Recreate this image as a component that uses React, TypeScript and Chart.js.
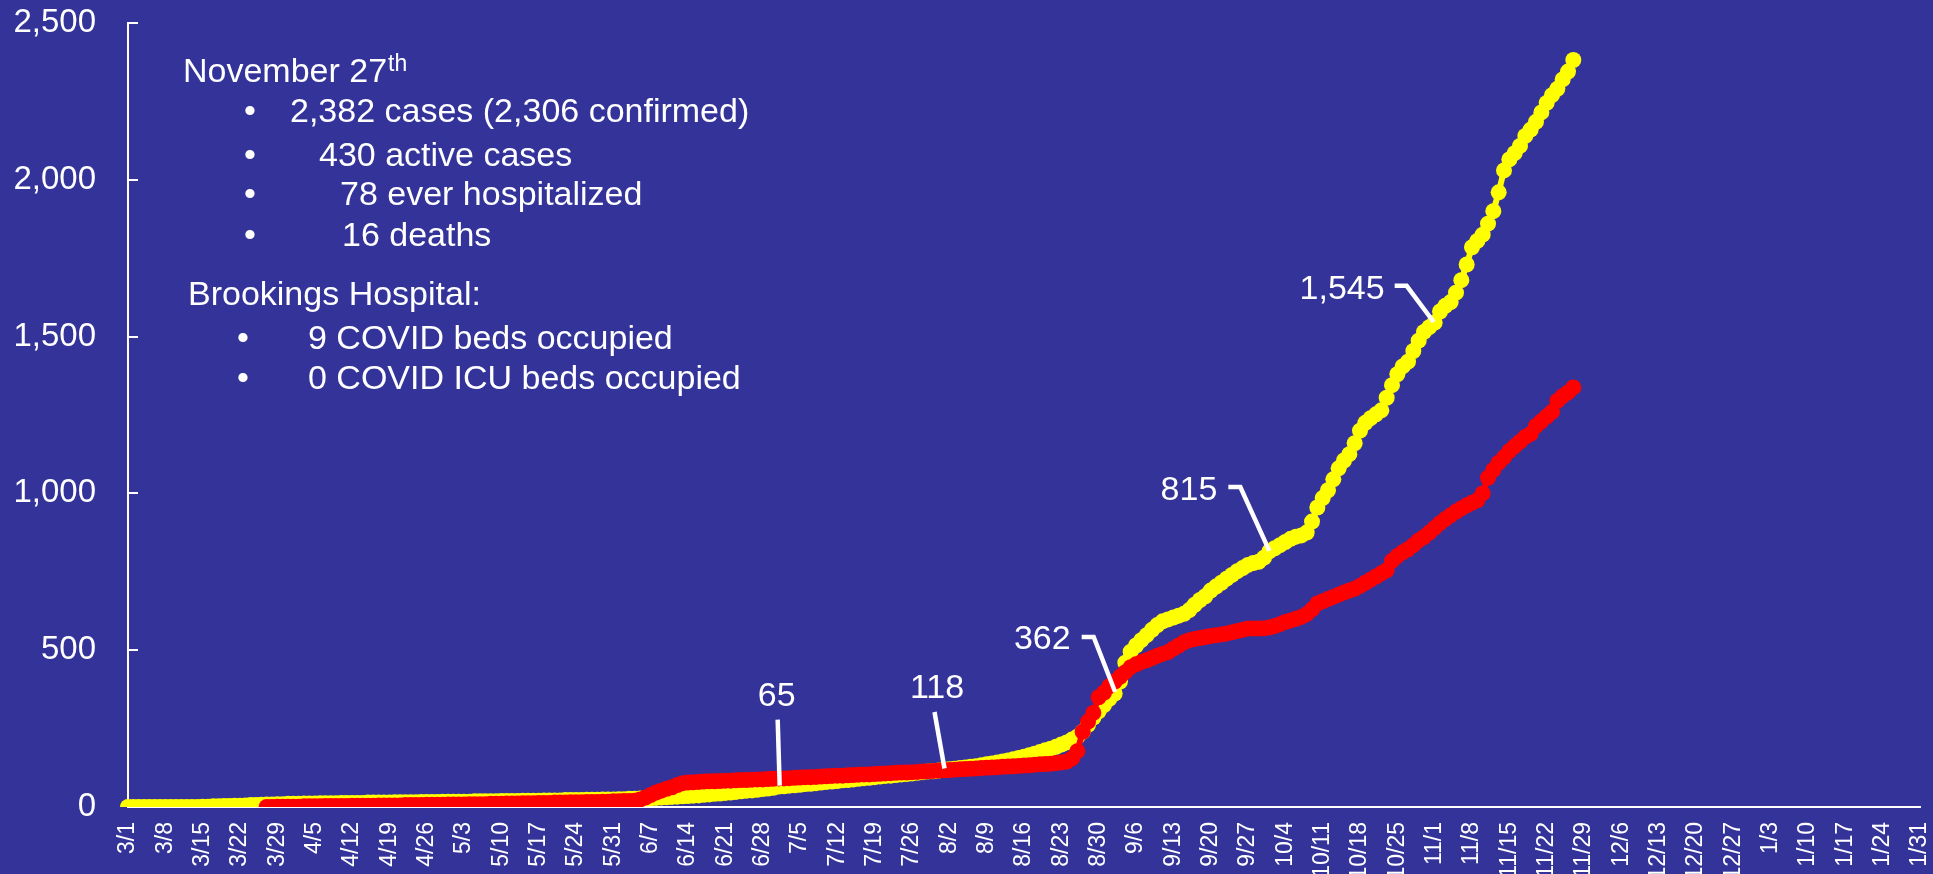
import React, { useEffect, useRef } from 'react';
import { Chart, registerables } from 'chart.js';

Chart.register(...registerables);

// ---------- DATA ----------
const FIRST_DAY_UTC = Date.UTC(2020, 2, 1); // 3/1/2020
const DAY_COUNT = 337; // 3/1/2020 .. 1/31/2021

const weekTickLabels = [
  '3/1', '3/8', '3/15', '3/22', '3/29', '4/5', '4/12', '4/19', '4/26', '5/3', '5/10', '5/17', '5/24', '5/31',
  '6/7', '6/14', '6/21', '6/28', '7/5', '7/12', '7/19', '7/26', '8/2', '8/9', '8/16', '8/23', '8/30',
  '9/6', '9/13', '9/20', '9/27', '10/4', '10/11', '10/18', '10/25', '11/1', '11/8', '11/15', '11/22', '11/29',
  '12/6', '12/13', '12/20', '12/27', '1/3', '1/10', '1/17', '1/24', '1/31',
];

const yTickValues = [0, 500, 1000, 1500, 2000, 2500];

// yellow series: cumulative cases, one value per day starting 3/1
const casesMar = [0, 0, 0, 0, 0, 0, 0, 0, 0, 0, 0, 0, 0, 0, 1, 1, 2, 2, 3, 3, 4, 4, 5, 6, 6, 7, 8, 8, 9, 9, 10];
const casesApr = [10, 10, 11, 11, 11, 12, 12, 12, 12, 13, 13, 13, 13, 13, 14, 14, 14, 14, 14, 15, 15, 15, 15, 15, 16, 16, 16, 16, 17, 17];
const casesMay = [17, 17, 17, 17, 18, 18, 18, 18, 18, 19, 19, 19, 19, 20, 20, 20, 20, 21, 21, 21, 21, 22, 22, 22, 22, 23, 23, 23, 24, 24, 24];
const casesJun = [25, 25, 26, 26, 27, 27, 28, 29, 30, 31, 32, 33, 34, 35, 36, 37, 39, 40, 42, 43, 45, 46, 48, 50, 52, 53, 55, 57, 59, 61];
const casesJul = [65, 66, 68, 69, 71, 73, 74, 76, 78, 80, 81, 83, 85, 86, 88, 90, 92, 93, 95, 97, 99, 100, 102, 104, 105, 107, 109, 111, 113, 114, 116];
const casesAug = [118, 120, 122, 124, 126, 128, 130, 133, 136, 139, 142, 145, 148, 152, 156, 160, 165, 170, 175, 181, 186, 192, 199, 206, 215, 224, 240, 262, 285, 305, 325];
const casesSep = [345, 362, 400, 460, 495, 515, 532, 548, 565, 580, 592, 598, 604, 610, 616, 628, 645, 660, 672, 690, 703, 715, 728, 740, 752, 762, 772, 778, 782, 795];
const casesOct = [815, 825, 835, 845, 855, 862, 866, 875, 910, 955, 985, 1010, 1045, 1080, 1105, 1125, 1160, 1200, 1225, 1240, 1252, 1265, 1305, 1345, 1380, 1405, 1420, 1454, 1487, 1515, 1530];
const casesNov = [1545, 1580, 1598, 1610, 1640, 1680, 1730, 1785, 1805, 1825, 1860, 1900, 1960, 2030, 2065, 2085, 2108, 2140, 2160, 2185, 2215, 2245, 2270, 2290, 2320, 2345, 2382];

// red series: starts 3/27, one value per day
const RED_START_DAY = 26;
const redMar = [0, 0, 1, 1, 1];
const redApr = [1, 1, 2, 2, 2, 2, 3, 3, 3, 3, 3, 4, 4, 4, 4, 4, 5, 5, 5, 5, 5, 6, 6, 6, 6, 7, 7, 7, 7, 8];
const redMay = [8, 8, 8, 9, 9, 9, 9, 10, 10, 10, 11, 11, 11, 12, 12, 12, 13, 13, 13, 14, 14, 14, 15, 15, 15, 16, 16, 16, 17, 17, 18];
const redJun = [18, 19, 19, 20, 24, 30, 38, 46, 52, 58, 63, 70, 76, 78, 79, 80, 81, 82, 82, 83, 84, 84, 85, 86, 86, 87, 88, 88, 89, 90];
const redJul = [91, 91, 92, 93, 94, 95, 95, 96, 97, 98, 99, 100, 100, 101, 102, 103, 104, 104, 105, 106, 107, 108, 109, 110, 110, 111, 112, 113, 114, 115, 116];
const redAug = [117, 118, 119, 120, 121, 122, 123, 124, 125, 126, 127, 128, 129, 130, 131, 132, 133, 135, 136, 137, 138, 140, 142, 145, 155, 178, 240, 272, 300, 350, 365];
const redSep = [385, 400, 415, 430, 446, 455, 462, 468, 475, 482, 488, 494, 505, 515, 525, 532, 536, 539, 542, 545, 548, 550, 553, 557, 561, 565, 569, 569, 569, 570];
const redOct = [572, 577, 583, 590, 595, 600, 606, 615, 630, 649, 656, 663, 670, 677, 684, 690, 696, 705, 715, 725, 735, 745, 755, 785, 800, 812, 822, 835, 850, 861, 875];
const redNov = [890, 905, 918, 930, 942, 952, 962, 970, 978, 1000, 1050, 1075, 1098, 1115, 1135, 1150, 1165, 1180, 1190, 1215, 1230, 1245, 1260, 1295, 1310, 1322, 1338];

// days (index from 3/1) whose yellow value carries a callout label
const calloutDays = [122, 153, 185, 214, 245];

const infoTitle = 'November 27';
const infoTitleSup = 'th';
const infoLines = [
  '2,382 cases (2,306 confirmed)',
  '430 active cases',
  '78 ever hospitalized',
  '16 deaths',
];
const hospitalTitle = 'Brookings Hospital:';
const hospitalLines = ['9 COVID beds occupied', '0 COVID ICU beds occupied'];

// ---------- STYLE ----------
const BG = '#333399';
const FONT = '"Liberation Sans", Arial, Helvetica, sans-serif';

const dayLabels: string[] = [];
for (let i = 0; i < DAY_COUNT; i++) {
  const d = new Date(FIRST_DAY_UTC + i * 86400000);
  dayLabels.push(`${d.getUTCMonth() + 1}/${d.getUTCDate()}`);
}
const weekSet = new Set(weekTickLabels);

const casesSeries = [
  ...casesMar, ...casesApr, ...casesMay, ...casesJun, ...casesJul,
  ...casesAug, ...casesSep, ...casesOct, ...casesNov,
];
const redValues = [...redMar, ...redApr, ...redMay, ...redJun, ...redJul, ...redAug, ...redSep, ...redOct, ...redNov];
const redSeries: (number | null)[] = [
  ...new Array(RED_START_DAY).fill(null),
  ...redValues,
];

// callout layout relative to the data point (pixels)
const calloutStyle: Record<number, { align: CanvasTextAlign; dx: number; dy: number; line: number[][] }> = {
  122: { align: 'center', dx: -2, dy: -81, line: [[-1, -67], [1, -1]] },
  153: { align: 'center', dx: -7, dy: -72, line: [[-9.5, -58], [0.5, -1.5]] },
  185: { align: 'right', dx: -44, dy: -44, line: [[-33, -56.5], [-21, -56.5], [0.5, -1.5]] },
  214: { align: 'right', dx: -52, dy: -51, line: [[-41, -64.4], [-29, -64.4], [0, -0.5]] },
  245: { align: 'right', dx: -50, dy: -23, line: [[-40, -36.7], [-28, -36.7], [-1, -0.5]] },
};

const bgPlugin = {
  id: 'bg',
  beforeDraw(chart: any) {
    const ctx = chart.ctx;
    ctx.save();
    ctx.fillStyle = BG;
    ctx.fillRect(0, 0, chart.width, chart.height);
    ctx.restore();
  },
};

const innerTicksPlugin = {
  id: 'innerTicks',
  beforeDatasetsDraw(chart: any) {
    const y = chart.scales.y;
    const ctx = chart.ctx;
    ctx.save();
    ctx.strokeStyle = '#ffffff';
    ctx.lineWidth = 2;
    for (const v of yTickValues) {
      if (v === 0) continue;
      const py = Math.round(y.getPixelForValue(v));
      ctx.beginPath();
      ctx.moveTo(chart.chartArea.left, py);
      ctx.lineTo(chart.chartArea.left + 10, py);
      ctx.stroke();
    }
    ctx.restore();
  },
};

const calloutPlugin = {
  id: 'callouts',
  afterDatasetsDraw(chart: any) {
    const meta = chart.getDatasetMeta(1);
    const ctx = chart.ctx;
    ctx.save();
    ctx.fillStyle = '#ffffff';
    ctx.strokeStyle = '#ffffff';
    ctx.lineWidth = 4.5;
    ctx.font = `34px ${FONT}`;
    ctx.textBaseline = 'alphabetic';
    for (const day of calloutDays) {
      const el = meta.data[day];
      if (!el) continue;
      const st = calloutStyle[day];
      const px = el.x;
      const py = el.y;
      ctx.textAlign = st.align;
      ctx.fillText(casesSeries[day].toLocaleString('en-US'), px + st.dx, py + st.dy);
      ctx.beginPath();
      st.line.forEach((p, i) => {
        if (i === 0) ctx.moveTo(px + p[0], py + p[1]);
        else ctx.lineTo(px + p[0], py + p[1]);
      });
      ctx.stroke();
    }
    ctx.restore();
  },
};

const textBlockPlugin = {
  id: 'textBlock',
  afterDraw(chart: any) {
    const ctx = chart.ctx;
    ctx.save();
    ctx.fillStyle = '#ffffff';
    ctx.textBaseline = 'alphabetic';
    ctx.textAlign = 'left';
    ctx.font = `34px ${FONT}`;
    ctx.fillText(infoTitle, 183, 82);
    const w = ctx.measureText(infoTitle).width;
    ctx.font = `23px ${FONT}`;
    ctx.fillText(infoTitleSup, 183 + w + 1, 71);
    ctx.font = `34px ${FONT}`;
    const infoX = [290, 319, 340, 342];
    const infoY = [122, 165.5, 204.5, 246];
    infoLines.forEach((t, i) => {
      ctx.textAlign = 'center';
      ctx.fillText('\u2022', 250, infoY[i]);
      ctx.textAlign = 'left';
      ctx.fillText(t, infoX[i], infoY[i]);
    });
    ctx.fillText(hospitalTitle, 188, 305);
    const hospY = [348.5, 388.5];
    hospitalLines.forEach((t, i) => {
      ctx.textAlign = 'center';
      ctx.fillText('\u2022', 243, hospY[i]);
      ctx.textAlign = 'left';
      ctx.fillText(t, 308, hospY[i]);
    });
    ctx.restore();
  },
};

export default function App() {
  const ref = useRef<HTMLCanvasElement | null>(null);

  useEffect(() => {
    document.body.style.margin = '0';
    document.body.style.background = BG;
    const canvas = ref.current;
    if (!canvas) return;
    const chart = new Chart(canvas, {
      type: 'line',
      data: {
        labels: dayLabels,
        datasets: [
          {
            label: 'Red',
            data: redSeries,
            showLine: true,
            borderWidth: 6,
            pointRadius: 8,
            pointHoverRadius: 8,
            pointBorderWidth: 0,
            pointBackgroundColor: '#ff0000',
            borderColor: '#ff0000',
            backgroundColor: '#ff0000',
          },
          {
            label: 'Cases',
            data: casesSeries,
            showLine: true,
            borderWidth: 6,
            pointRadius: 8,
            pointHoverRadius: 8,
            pointBorderWidth: 0,
            pointBackgroundColor: '#ffff00',
            borderColor: '#ffff00',
            backgroundColor: '#ffff00',
          },
        ],
      },
      options: {
        responsive: false,
        animation: false,
        events: [],
        layout: { padding: { top: 23, right: 13, bottom: 0, left: 0 } },
        plugins: {
          legend: { display: false },
          tooltip: { enabled: false },
        },
        scales: {
          x: {
            type: 'category',
            offset: false,
            grid: { display: false, drawTicks: false },
            border: { display: true, color: '#ffffff', width: 2 },
            ticks: {
              autoSkip: false,
              minRotation: 90,
              maxRotation: 90,
              padding: 15,
              color: '#ffffff',
              font: { family: FONT, size: 23 },
              callback: function (this: any, _v: any, index: number) {
                const lab = dayLabels[index];
                return index % 7 === 0 && weekSet.has(lab) ? lab : null;
              },
            },
            afterFit: (scale: any) => {
              scale.height = 67;
              scale.paddingLeft = 0;
              scale.paddingRight = 0;
            },
          },
          y: {
            min: 0,
            max: 2500,
            grid: { display: false, drawTicks: false },
            border: { display: true, color: '#ffffff', width: 2 },
            ticks: {
              stepSize: 500,
              padding: 32,
              color: '#ffffff',
              font: { family: FONT, size: 33 },
              callback: (v: any) => Number(v).toLocaleString('en-US'),
            },
            afterFit: (scale: any) => {
              scale.width = 128;
              scale.paddingTop = 0;
              scale.paddingBottom = 0;
            },
          },
        },
      },
      plugins: [bgPlugin, innerTicksPlugin, calloutPlugin, textBlockPlugin],
    });
    return () => chart.destroy();
  }, []);

  return (
    <div style={{ width: 1933, height: 874, background: BG, overflow: 'hidden' }}>
      <canvas ref={ref} width={1933} height={874} style={{ display: 'block' }} />
    </div>
  );
}
